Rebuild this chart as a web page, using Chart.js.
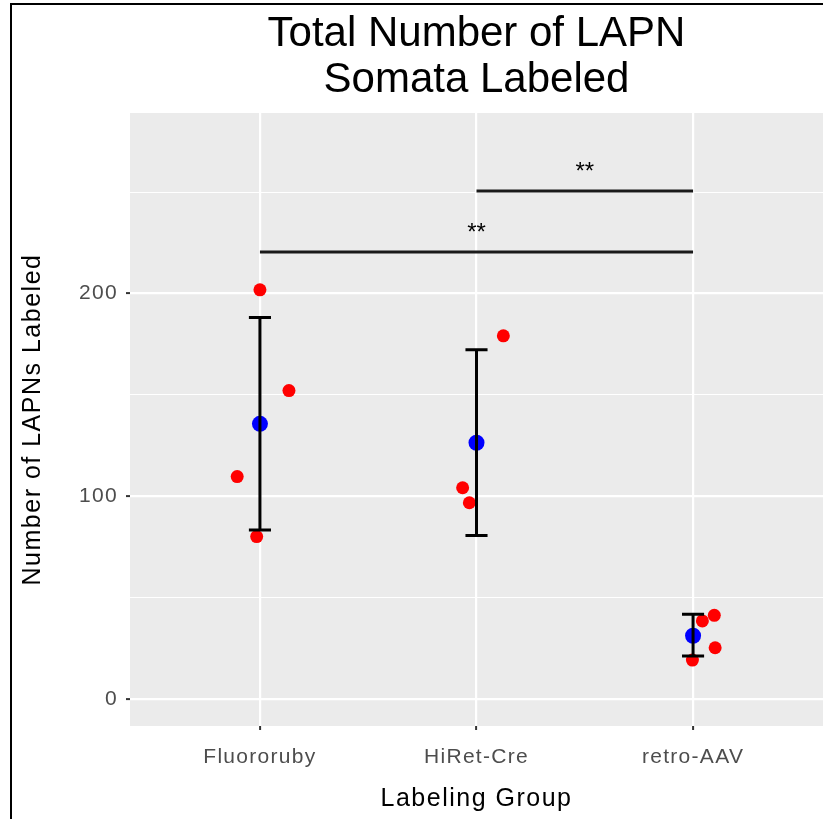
<!DOCTYPE html>
<html>
<head>
<meta charset="utf-8">
<script src="https://cdn.jsdelivr.net/npm/chart.js@4/dist/chart.umd.min.js"></script>
<style>
  html, body { margin: 0; padding: 0; background: #ffffff; }
  canvas { display: block; }
</style>
</head>
<body>
<canvas id="c" width="823" height="819"></canvas>
<script>
// ---- data ----
const categories = ['Fluororuby', 'HiRet-Cre', 'retro-AAV'];
const categoryPos = [1, 2, 3];
// individual animals: horizontal position (category + jitter, as read) and value
const obsX = [1.000, 1.134, 0.895, 0.985, 2.124, 1.936, 1.967, 3.098, 3.043, 3.102, 2.997];
const obsY = [201.8, 152.1, 109.7, 80.1, 179.1, 104.2, 96.8, 41.3, 38.5, 25.3, 19.2];
// group means and error bar limits
const meanY = [135.7, 126.4, 31.2];
const errLow = [83.4, 80.6, 21.2];
const errHigh = [188.1, 172.2, 41.8];
// significance brackets
const sigFrom = [1, 2];
const sigTo = [3, 3];
const sigHeight = [220.4, 250.6];
const sigLabel = ['**', '**'];
// y ticks (major labelled, minor only gridlines)
const yTickValues = [0, 50, 100, 150, 200, 250];
const yTickLabels = ['0', '', '100', '', '200', ''];

// ---- styles ----
const CAP = 0.051;
const FONT = "'Liberation Sans', Arial, Helvetica, sans-serif";

const errData = [];
categoryPos.forEach((g, i) => {
  errData.push({x: g - CAP, y: errHigh[i]}, {x: g + CAP, y: errHigh[i]}, {x: g, y: null});
  errData.push({x: g, y: errHigh[i]}, {x: g, y: errLow[i]}, {x: g, y: null});
  errData.push({x: g - CAP, y: errLow[i]}, {x: g + CAP, y: errLow[i]}, {x: g, y: null});
});
const sigData = [];
sigFrom.forEach((a, i) => {
  sigData.push({x: a, y: sigHeight[i]}, {x: sigTo[i], y: sigHeight[i]}, {x: a, y: null});
});

const bgPlugin = {
  id: 'panelBg',
  beforeDraw(chart) {
    const {ctx, chartArea: a} = chart;
    ctx.save();
    ctx.fillStyle = '#ffffff';
    ctx.fillRect(0, 0, chart.width, chart.height);
    ctx.fillStyle = '#EBEBEB';
    ctx.fillRect(a.left, a.top, a.right - a.left, a.bottom - a.top);
    ctx.restore();
    // letter spacing for axis text
    Object.values(chart.scales).forEach(s => {
      if (s._spacedWrap) return;
      s._spacedWrap = true;
      const dl = s.drawLabels.bind(s), dt = s.drawTitle.bind(s);
      s.drawLabels = function (area) {
        const c = this.ctx; c.save(); c.letterSpacing = '1.3px'; dl(area); c.letterSpacing = '0px'; c.restore();
      };
      s.drawTitle = function () {
        const c = this.ctx; c.save(); c.letterSpacing = '1.5px'; dt(); c.letterSpacing = '0px'; c.restore();
      };
    });
  },
  afterDatasetsDraw(chart) {
    const {ctx} = chart;
    const xs = chart.scales.x, ys = chart.scales.y;
    ctx.save();
    ctx.fillStyle = '#000000';
    ctx.font = '24px ' + FONT;
    ctx.textAlign = 'center';
    ctx.textBaseline = 'alphabetic';
    sigFrom.forEach((a, i) => {
      const px = xs.getPixelForValue((a + sigTo[i]) / 2);
      const py = ys.getPixelForValue(sigHeight[i]);
      ctx.fillText(sigLabel[i], px, py - 12);
    });
    ctx.restore();
  },
  afterDraw(chart) {
    const {ctx} = chart;
    ctx.save();
    ctx.fillStyle = '#000000';
    ctx.fillRect(10, 3, 2, chart.height - 3);
    ctx.fillRect(10, 3, chart.width - 10, 2);
    ctx.restore();
  }
};

new Chart(document.getElementById('c'), {
  type: 'scatter',
  data: {
    datasets: [
      {
        label: 'error',
        data: errData,
        showLine: true,
        spanGaps: false,
        borderColor: '#000000',
        borderWidth: 3,
        pointRadius: 0,
        pointHoverRadius: 0,
        order: 0
      },
      {
        label: 'significance',
        data: sigData,
        showLine: true,
        spanGaps: false,
        borderColor: '#1a1a1a',
        borderWidth: 3,
        pointRadius: 0,
        pointHoverRadius: 0,
        order: 1
      },
      {
        label: 'mean',
        data: categoryPos.map((g, i) => ({x: g, y: meanY[i]})),
        backgroundColor: '#0000FF',
        borderColor: '#0000FF',
        borderWidth: 0,
        pointRadius: 8,
        order: 2
      },
      {
        label: 'animals',
        data: obsX.map((x, i) => ({x: x, y: obsY[i]})),
        backgroundColor: '#FF0000',
        borderColor: '#FF0000',
        borderWidth: 0,
        pointRadius: 6.5,
        order: 3
      }
    ]
  },
  options: {
    responsive: false,
    animation: false,
    events: [],
    layout: { autoPadding: false, padding: { left: 0, right: 0, top: 0, bottom: 0 } },
    plugins: {
      legend: { display: false },
      tooltip: { enabled: false },
      title: {
        display: true,
        fullSize: false,
        text: ['Total Number of LAPN', 'Somata Labeled'],
        color: '#000000',
        font: { family: FONT, size: 42, weight: 'normal', lineHeight: 1.08 },
        padding: { top: 12, bottom: 10.3 }
      }
    },
    scales: {
      x: {
        type: 'linear',
        min: 0.4,
        max: 3.6,
        afterBuildTicks(scale) { scale.ticks = categoryPos.map(v => ({value: v})); },
        afterFit(scale) { scale.height = 93; scale.paddingLeft = 0; scale.paddingRight = 0; },
        ticks: {
          callback(v) { const i = categoryPos.indexOf(v); return i >= 0 ? categories[i] : ''; },
          color: '#4D4D4D',
          font: { family: FONT, size: 21 },
          padding: 15,
          maxRotation: 0,
          autoSkip: false
        },
        grid: {
          color: '#ffffff',
          lineWidth: 2.2,
          drawTicks: true,
          tickLength: 4,
          tickColor: '#333333',
          tickWidth: 2
        },
        border: { display: false },
        title: {
          display: true,
          text: 'Labeling Group',
          color: '#000000',
          font: { family: FONT, size: 25 },
          padding: { top: 0, bottom: 4.6 }
        }
      },
      y: {
        type: 'linear',
        min: -13.3,
        max: 289,
        afterBuildTicks(scale) { scale.ticks = yTickValues.map(v => ({value: v})); },
        afterFit(scale) { scale.width = 130; scale.paddingTop = 0; scale.paddingBottom = 0; },
        ticks: {
          callback(v) { const i = yTickValues.indexOf(v); return i >= 0 ? yTickLabels[i] : ''; },
          color: '#4D4D4D',
          font: { family: FONT, size: 21 },
          padding: 8,
          autoSkip: false
        },
        grid: {
          color: '#ffffff',
          lineWidth: (c) => (c.tick && yTickLabels[yTickValues.indexOf(c.tick.value)] !== '' ? 2.2 : 1.1),
          drawTicks: true,
          tickLength: 4,
          tickColor: (c) => (c.tick && yTickLabels[yTickValues.indexOf(c.tick.value)] !== '' ? '#333333' : 'rgba(0,0,0,0)'),
          tickWidth: 2
        },
        border: { display: false },
        title: {
          display: true,
          text: 'Number of LAPNs Labeled',
          color: '#000000',
          font: { family: FONT, size: 25 },
          padding: { top: 18.6, bottom: 0 }
        }
      }
    }
  },
  plugins: [bgPlugin]
});
</script>
</body>
</html>
